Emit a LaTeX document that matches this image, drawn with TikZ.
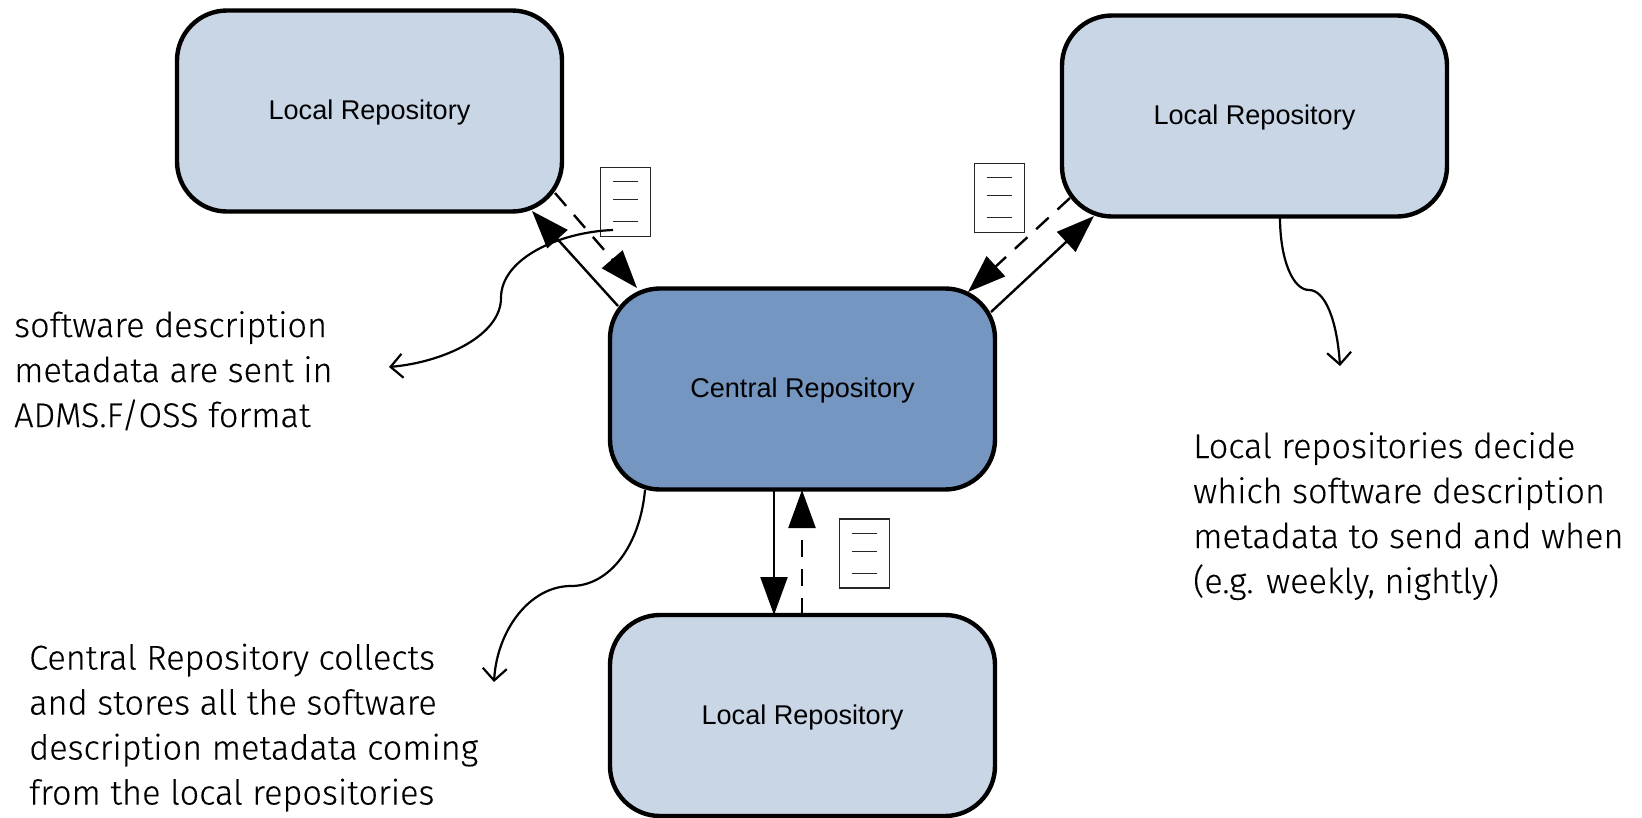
\documentclass[tikz,border=0pt]{standalone}
\usepackage{fontspec}
\setmainfont{Liberation Sans}
\newfontfamily\notefont[FakeBold=0.2]{Fira Sans Light}
\usetikzlibrary{arrows.meta}
\definecolor{lightrepo}{HTML}{C9D6E6}
\definecolor{centralrepo}{HTML}{7596C0}
\tikzset{
  repo/.style={draw=black,line width=4.4pt,rounded corners=50pt,minimum width=385pt,minimum height=201pt,inner sep=0pt,fill=lightrepo,text height=20pt,text depth=2.6pt,font=\fontsize{27.1}{31}\selectfont},
  central/.style={repo,fill=centralrepo},
  flow/.style={line width=2.4pt,-{Triangle[length=38pt,width=27pt]}},
  flowdash/.style={flow,dash pattern=on 17pt off 12pt},
  callout/.style={line width=2.2pt,-{Straight Barb[length=12pt,width=24pt,line width=2.2pt]}},
  note/.style={anchor=north west,align=left,inner sep=0pt,font=\notefont\fontsize{34.3}{45}\selectfont},
  docbox/.style={draw=black!85,line width=1.2pt,fill=white,minimum width=50pt,minimum height=69pt,inner sep=0pt},
  docline/.style={draw=black!85,line width=1.1pt},
}
\begin{document}
\begin{tikzpicture}[x=1pt,y=-1pt]
\useasboundingbox (0,0) rectangle (1642,817);
\node[repo] (tl) at (369.5,111) {Local Repository};
\node[repo] (tr) at (1254.5,116) {Local Repository};
\node[central] (c) at (802.5,389) {Central Repository};
\node[repo] (b) at (802.5,715.5) {Local Repository};

\coordinate (tlA) at (532,211);
\coordinate (cA) at (618,306);
\coordinate (tlB) at (555,193);
\coordinate (cB) at (637,288);
\coordinate (trA) at (1070,198);
\coordinate (cC) at (968,292);
\coordinate (cD) at (991,312);
\coordinate (trB) at (1094,216);
\coordinate (cE) at (774,490);
\coordinate (bE) at (774,615);
\coordinate (bF) at (802,615);
\coordinate (cF) at (802,490);

\draw[flow] (cA) -- (tlA);
\draw[flowdash] (tlB) -- (cB);
\draw[flowdash] (trA) -- (cC);
\draw[flow] (cD) -- (trB);
\draw[flow] (cE) -- (bE);
\draw[flowdash] (bF) -- (cF);

\node[docbox] (d1) at (625.5,202) {};
\node[docbox] (d2) at (999.5,198) {};
\node[docbox] (d3) at (864.5,553.5) {};
\foreach \d in {d1,d2,d3}{
  \draw[docline] ([shift={(13,15)}]\d.north west) -- ([shift={(38,15)}]\d.north west);
  \draw[docline] ([shift={(13,33)}]\d.north west) -- ([shift={(38,33)}]\d.north west);
  \draw[docline] ([shift={(13,55)}]\d.north west) -- ([shift={(38,55)}]\d.north west);
}

\coordinate (s1) at (613,230);
\coordinate (m1) at (501,298);
\coordinate (e1) at (389,367);
\coordinate (s2) at (645,490);
\coordinate (m2) at (571,586);
\coordinate (e2) at (494,682);
\coordinate (s3) at (1280,217);
\coordinate (m3) at (1309,290);
\coordinate (e3) at (1340,366);
\draw[callout] (s1) .. controls (560,232) and (501,258) .. (m1) .. controls (501,335) and (445,362) .. (e1);
\draw[callout] (s2) .. controls (640,545) and (610,586) .. (m2) .. controls (530,586) and (497,630) .. (e2);
\draw[callout] (s3) .. controls (1280,260) and (1293,290) .. (m3) .. controls (1325,290) and (1337,320) .. (e3);

\node[note] (n1) at (14,311) {software description\\metadata are sent in\\ADMS.F/OSS format};
\node[note] (n2) at (29,643.5) {Central Repository collects\\and stores all the software\\description metadata coming\\from the local repositories};
\node[note] (n3) at (1193,432) {Local repositories decide\\which software description\\metadata to send and when\\(e.g. weekly, nightly)};
\end{tikzpicture}
\end{document}
